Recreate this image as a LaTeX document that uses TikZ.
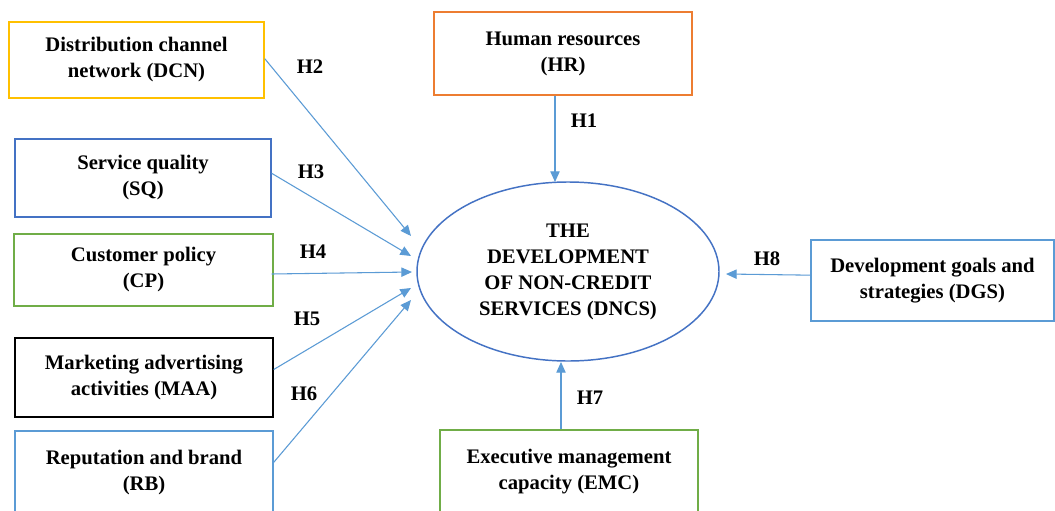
\documentclass[tikz,border=0pt]{standalone}
\usepackage{fontspec}
\setmainfont{Liberation Serif}
\usetikzlibrary{arrows.meta,shapes.geometric}
\definecolor{cgold}{HTML}{FFC000}
\definecolor{cblue}{HTML}{4472C4}
\definecolor{cgreen}{HTML}{70AD47}
\definecolor{clblue}{HTML}{5B9BD5}
\definecolor{corange}{HTML}{ED7D31}
\tikzset{
  box/.style={draw, rectangle, line width=1.1pt, inner sep=0pt, align=center,
    font=\fontsize{15.5}{19.5}\selectfont\bfseries},
  hlab/.style={font=\fontsize{15.5}{19.5}\selectfont\bfseries, inner sep=0pt},
  conn/.style={draw=clblue, line width=0.8pt, -{Triangle[length=8pt,width=7pt]}, color=clblue},
}
\begin{document}
\begin{tikzpicture}[x=0.75pt,y=-0.75pt]
\useasboundingbox (0,0) rectangle (1055,510);
\clip (0,0) rectangle (1055,510);
\fill[white] (0,0) rectangle (1055,510);
% boxes
\node[box, draw=cgold, minimum width=191.25pt, minimum height=57pt] (dcn) at (136.5,60) {Distribution channel\\network (DCN)};
\node[box, draw=cblue, minimum width=192pt, minimum height=58.5pt] (sq) at (143,178) {Service quality\\(SQ)};
\node[box, draw=cgreen, minimum width=194.25pt, minimum height=54pt] (cp) at (143.5,270) {Customer policy\\(CP)};
\node[box, draw=black, minimum width=193.5pt, minimum height=59.25pt] (maa) at (144,377.5) {Marketing advertising\\activities (MAA)};
\node[box, draw=clblue, minimum width=193.5pt, minimum height=63pt] (rb) at (144,473) {Reputation and brand\\(RB)};
\node[box, draw=corange, minimum width=193.5pt, minimum height=62.25pt] (hr) at (563,53.5) {Human resources\\(HR)};
\node[box, draw=clblue, minimum width=182.25pt, minimum height=60.75pt] (dgs) at (932.5,280.5) {Development goals and\\strategies (DGS)};
\node[box, draw=cgreen, minimum width=193.5pt, minimum height=63pt] (emc) at (569,472) {Executive management\\capacity (EMC)};
% ellipse
\node[box, ellipse, draw=cblue, minimum width=226.5pt, minimum height=134.25pt] (dncs) at (568,271.5) {THE\\DEVELOPMENT\\OF NON-CREDIT\\SERVICES (DNCS)};
% arrow targets
\coordinate (t1) at (555,182);
\coordinate (t2) at (411,236);
\coordinate (t3) at (411,256);
\coordinate (t4) at (412,272);
\coordinate (t5) at (411,288);
\coordinate (t6) at (411,300);
\coordinate (t7) at (561,362);
\coordinate (t8) at (726,274);
% connectors
\draw[conn] ([yshift=1pt]dcn.east) -- (t2);
\draw[conn] ([yshift=3.5pt]sq.east) -- (t3);
\draw[conn] ([xshift=-1.5pt,yshift=-3pt]cp.east) -- (t4);
\draw[conn] ([yshift=6pt]maa.east) -- (t5);
\draw[conn] ([yshift=8pt]rb.east) -- (t6);
\draw[conn] ([xshift=-6pt]hr.south) -- (t1);
\draw[conn] ([xshift=-6pt]emc.north) -- (t7);
\draw[conn] ([yshift=4pt]dgs.west) -- (t8);
% labels
\node[hlab] (h1) at (584,121) {H1};
\node[hlab] (h2) at (310,67) {H2};
\node[hlab] (h3) at (311,172) {H3};
\node[hlab] (h4) at (313,252) {H4};
\node[hlab] (h5) at (307,319) {H5};
\node[hlab] (h6) at (304,394) {H6};
\node[hlab] (h7) at (590,398) {H7};
\node[hlab] (h8) at (767,259) {H8};
\end{tikzpicture}
\end{document}
